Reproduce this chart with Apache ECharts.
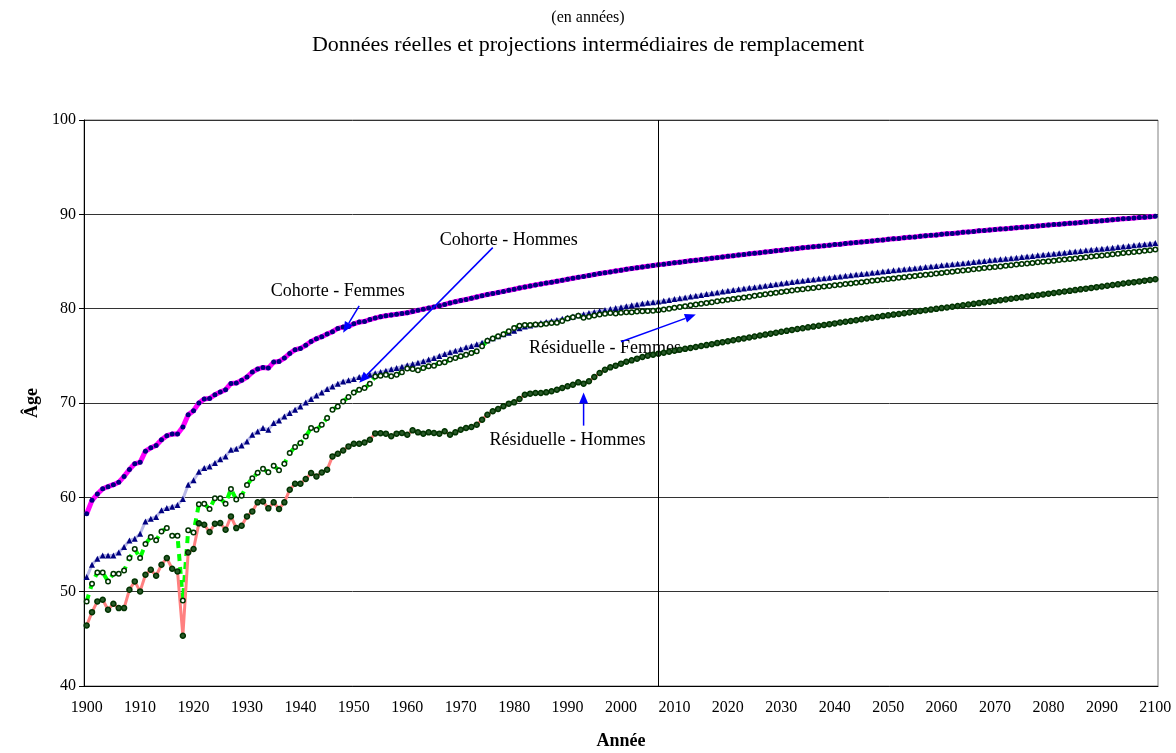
<!DOCTYPE html>
<html>
<head>
<meta charset="utf-8">
<title>Données réelles et projections intermédiaires de remplacement</title>
<script src="https://cdn.jsdelivr.net/npm/echarts@6/dist/echarts.min.js"></script>
<style>
  html, body { margin: 0; padding: 0; background: #fff; }
  #chart { width: 1176px; height: 753px; }
</style>
</head>
<body>
<div id="chart"></div>
<script>
// années 1900 - 2100 (axe des catégories)
const firstYear = 1900
const lastYear = 2100
const years = []
for (let y = firstYear; y <= lastYear; y++) years.push(String(y))

const yTicks = [40, 50, 60, 70, 80, 90, 100]
const yearSep = '2007' // trait vertical : fin des données réelles

// une ligne = une décennie
const cohorteFemmes = [
  58.26, 59.68, 60.35, 60.91, 61.13, 61.34, 61.59, 62.22, 62.95, 63.57,
  63.71, 64.89, 65.25, 65.49, 66.11, 66.54, 66.71, 66.71, 67.46, 68.76,
  69.19, 70.0, 70.42, 70.49, 70.88, 71.16, 71.41, 72.08, 72.11, 72.4,
  72.75, 73.28, 73.6, 73.77, 73.7, 74.34, 74.41, 74.76, 75.26, 75.65,
  75.79, 76.11, 76.53, 76.81, 77.03, 77.31, 77.56, 77.91, 78.05, 78.12,
  78.4, 78.58, 78.65, 78.84, 79.0, 79.15, 79.25, 79.33, 79.4, 79.48,
  79.57, 79.7, 79.82, 79.95, 80.06, 80.17, 80.3, 80.45, 80.6, 80.74,
  80.86, 80.97, 81.1, 81.24, 81.38, 81.5, 81.6, 81.72, 81.83, 81.95,
  82.06, 82.19, 82.3, 82.41, 82.52, 82.61, 82.71, 82.8, 82.9, 83.0,
  83.12, 83.22, 83.32, 83.42, 83.52, 83.62, 83.72, 83.81, 83.9, 83.99,
  84.08, 84.17, 84.26, 84.34, 84.42, 84.5, 84.58, 84.65, 84.72, 84.79,
  84.86, 84.93, 85.0, 85.07, 85.14, 85.2, 85.27, 85.34, 85.41, 85.48,
  85.55, 85.61, 85.68, 85.74, 85.81, 85.87, 85.93, 86.0, 86.06, 86.13,
  86.19, 86.26, 86.32, 86.38, 86.45, 86.5, 86.56, 86.62, 86.67, 86.73,
  86.79, 86.84, 86.9, 86.96, 87.01, 87.07, 87.12, 87.18, 87.24, 87.29,
  87.35, 87.4, 87.45, 87.51, 87.56, 87.61, 87.67, 87.72, 87.77, 87.82,
  87.88, 87.93, 87.98, 88.03, 88.09, 88.14, 88.19, 88.25, 88.29, 88.34,
  88.39, 88.44, 88.48, 88.53, 88.58, 88.62, 88.67, 88.72, 88.76, 88.81,
  88.86, 88.91, 88.95, 89.0, 89.05, 89.09, 89.14, 89.19, 89.23, 89.28,
  89.33, 89.37, 89.42, 89.47, 89.52, 89.56, 89.61, 89.66, 89.7, 89.75,
  89.8
]

const cohorteHommes = [
  51.55, 52.85, 53.49, 53.84, 53.84, 53.84, 54.16, 54.73, 55.43, 55.61,
  56.14, 57.45, 57.73, 57.91, 58.62, 58.86, 59.0, 59.18, 59.82, 61.34,
  61.8, 62.7, 63.1, 63.28, 63.63, 64.05, 64.34, 65.04, 65.15, 65.5,
  65.93, 66.63, 66.99, 67.34, 67.16, 67.87, 68.15, 68.58, 68.93, 69.29,
  69.64, 70.06, 70.42, 70.8, 71.12, 71.48, 71.76, 72.04, 72.29, 72.4,
  72.54, 72.75, 72.89, 73.0, 73.15, 73.29, 73.43, 73.57, 73.71, 73.85,
  74.0, 74.14, 74.28, 74.42, 74.6, 74.77, 74.98, 75.2, 75.37, 75.55,
  75.69, 75.9, 76.04, 76.22, 76.4, 76.65, 76.86, 77.07, 77.28, 77.46,
  77.67, 77.92, 78.1, 78.22, 78.35, 78.47, 78.58, 78.69, 78.8, 78.92,
  79.05, 79.18, 79.3, 79.42, 79.53, 79.64, 79.75, 79.86, 79.96, 80.06,
  80.16, 80.26, 80.36, 80.45, 80.54, 80.62, 80.69, 80.76, 80.84, 80.93,
  81.02, 81.1, 81.19, 81.28, 81.37, 81.46, 81.55, 81.63, 81.72, 81.81,
  81.9, 81.98, 82.05, 82.13, 82.21, 82.28, 82.36, 82.44, 82.51, 82.59,
  82.67, 82.75, 82.82, 82.9, 82.96, 83.03, 83.09, 83.16, 83.22, 83.29,
  83.35, 83.42, 83.48, 83.55, 83.61, 83.68, 83.74, 83.81, 83.87, 83.94,
  84.0, 84.06, 84.12, 84.18, 84.24, 84.29, 84.35, 84.41, 84.47, 84.53,
  84.59, 84.65, 84.71, 84.76, 84.82, 84.88, 84.94, 85.0, 85.06, 85.12,
  85.18, 85.24, 85.29, 85.35, 85.41, 85.47, 85.53, 85.59, 85.65, 85.71,
  85.76, 85.82, 85.88, 85.94, 86.0, 86.06, 86.12, 86.18, 86.24, 86.3,
  86.35, 86.41, 86.47, 86.53, 86.59, 86.65, 86.71, 86.77, 86.83, 86.89,
  86.95
]

const residuelleFemmes = [
  48.97, 50.84, 52.04, 52.04, 51.09, 51.9, 51.9, 52.25, 53.56, 54.52,
  53.56, 55.05, 55.79, 55.44, 56.39, 56.74, 55.93, 55.93, 49.07, 56.5,
  56.28, 59.27, 59.32, 58.76, 59.9, 59.9, 59.32, 60.88, 59.78, 60.17,
  61.32, 62.03, 62.6, 63.04, 62.65, 63.35, 62.86, 63.57, 64.7, 65.33,
  65.75, 66.46, 67.34, 67.16, 67.7, 68.4, 69.28, 69.64, 70.17, 70.63,
  71.12, 71.41, 71.58, 72.05, 72.8, 72.9, 73.0, 72.83, 73.0, 73.25,
  73.65, 73.6, 73.46, 73.71, 73.89, 73.96, 74.24, 74.31, 74.6, 74.77,
  74.95, 75.12, 75.3, 75.48, 76.01, 76.6, 76.85, 77.07, 77.3, 77.6,
  77.95, 78.2, 78.28, 78.27, 78.31, 78.33, 78.41, 78.48, 78.5, 78.7,
  78.95, 79.1, 79.26, 79.05, 79.15, 79.27, 79.37, 79.47, 79.54, 79.5,
  79.56, 79.62, 79.63, 79.69, 79.72, 79.76, 79.79, 79.83, 79.92, 80.0,
  80.09, 80.18, 80.26, 80.35, 80.43, 80.52, 80.61, 80.69, 80.78, 80.86,
  80.95, 81.03, 81.11, 81.19, 81.27, 81.36, 81.44, 81.52, 81.6, 81.68,
  81.76, 81.84, 81.92, 82.0, 82.07, 82.14, 82.2, 82.27, 82.34, 82.41,
  82.47, 82.54, 82.61, 82.68, 82.74, 82.81, 82.88, 82.95, 83.01, 83.08,
  83.15, 83.21, 83.28, 83.34, 83.4, 83.47, 83.53, 83.6, 83.66, 83.72,
  83.79, 83.85, 83.92, 83.98, 84.05, 84.11, 84.18, 84.24, 84.3, 84.36,
  84.42, 84.48, 84.54, 84.6, 84.67, 84.73, 84.79, 84.85, 84.91, 84.97,
  85.03, 85.09, 85.15, 85.21, 85.27, 85.33, 85.39, 85.46, 85.52, 85.58,
  85.64, 85.7, 85.76, 85.83, 85.89, 85.95, 86.01, 86.07, 86.14, 86.2,
  86.26
]

const residuelleHommes = [
  46.42, 47.83, 48.97, 49.14, 48.08, 48.72, 48.26, 48.26, 50.2, 51.09,
  50.03, 51.79, 52.32, 51.69, 52.85, 53.56, 52.43, 52.15, 45.33, 54.16,
  54.52, 57.24, 57.1, 56.32, 57.2, 57.27, 56.57, 57.98, 56.74, 56.99,
  57.98, 58.51, 59.47, 59.57, 58.83, 59.47, 58.76, 59.47, 60.81, 61.44,
  61.44, 61.94, 62.58, 62.22, 62.64, 62.92, 64.34, 64.62, 64.97, 65.4,
  65.68, 65.68, 65.82, 66.1, 66.78, 66.8, 66.75, 66.47, 66.75, 66.82,
  66.64, 67.1, 66.89, 66.75, 66.89, 66.82, 66.75, 67.0, 66.64, 66.89,
  67.17, 67.35, 67.45, 67.7, 68.23, 68.76, 69.12, 69.36, 69.65, 69.93,
  70.07, 70.42, 70.88, 70.99, 71.06, 71.06, 71.13, 71.24, 71.41, 71.59,
  71.77, 71.94, 72.19, 72.05, 72.3, 72.76, 73.18, 73.53, 73.78, 73.96,
  74.17, 74.38, 74.52, 74.7, 74.88, 75.02, 75.12, 75.23, 75.33, 75.44,
  75.54, 75.64, 75.74, 75.84, 75.94, 76.04, 76.14, 76.24, 76.35, 76.45,
  76.55, 76.65, 76.75, 76.85, 76.95, 77.05, 77.15, 77.25, 77.35, 77.45,
  77.55, 77.65, 77.75, 77.85, 77.93, 78.02, 78.1, 78.19, 78.27, 78.36,
  78.44, 78.53, 78.61, 78.7, 78.78, 78.87, 78.95, 79.04, 79.12, 79.21,
  79.29, 79.37, 79.44, 79.52, 79.6, 79.67, 79.75, 79.83, 79.9, 79.98,
  80.06, 80.13, 80.21, 80.29, 80.36, 80.44, 80.51, 80.59, 80.67, 80.74,
  80.82, 80.9, 80.97, 81.05, 81.13, 81.2, 81.28, 81.36, 81.43, 81.51,
  81.59, 81.66, 81.74, 81.82, 81.89, 81.97, 82.05, 82.12, 82.2, 82.28,
  82.35, 82.43, 82.51, 82.58, 82.66, 82.74, 82.81, 82.89, 82.97, 83.04,
  83.12
]

// étiquettes et flèches, en [année, âge]
const annotations = [
  { text: 'Cohorte - Hommes', at: [1979.2, 87.3], from: [1975.8, 86.47], to: [1950.8, 72.15] },
  { text: 'Cohorte - Femmes', at: [1947.0, 81.8], from: [1950.8, 80.3], to: [1948.4, 77.46] },
  { text: 'Résiduelle - Femmes', at: [1996.6, 75.76], from: [2000.2, 76.5], to: [2014.2, 79.37] },
  { text: 'Résiduelle - Hommes', at: [1990.0, 66.1], from: [1992.7, 67.6], to: [1993.1, 71.1] }
]

const serif = '"Liberation Serif", "Times New Roman", serif'

let chart = echarts.init(document.getElementById('chart'))

let option = {
  animation: false,
  backgroundColor: '#fff',
  title: [
    {
      text: '(en années)',
      left: 'center',
      top: 10,
      padding: 0,
      textStyle: { fontFamily: serif, fontSize: 16, fontWeight: 'normal', color: '#000' }
    },
    {
      text: 'Données réelles et projections intermédiaires de remplacement',
      left: 'center',
      top: 34,
      padding: 0,
      textStyle: { fontFamily: serif, fontSize: 22, fontWeight: 'normal', color: '#000' }
    }
  ],
  grid: {
    left: 84,
    right: 18,
    top: 120,
    bottom: 67,
    containLabel: false,
    outerBoundsMode: 'none',
    show: true,
    borderColor: '#808080',
    borderWidth: 1
  },
  xAxis: {
    type: 'category',
    data: years,
    boundaryGap: true,
    name: 'Année',
    nameLocation: 'middle',
    nameGap: 46,
    nameTextStyle: { fontFamily: serif, fontSize: 18, fontWeight: 'bold', color: '#000' },
    axisLine: { lineStyle: { color: '#000', width: 1 } },
    axisTick: { interval: 0, length: 5, lineStyle: { color: '#000' } },
    axisLabel: { interval: 9, margin: 14, fontFamily: serif, fontSize: 16, color: '#000' },
    splitLine: { show: false }
  },
  yAxis: {
    type: 'value',
    min: yTicks[0],
    max: yTicks[yTicks.length - 1],
    interval: 10,
    name: 'Âge',
    nameLocation: 'middle',
    nameGap: 35,
    nameRotate: 90,
    nameTextStyle: { fontFamily: serif, fontSize: 18, fontWeight: 'bold', color: '#000' },
    axisLine: { show: true, lineStyle: { color: '#000', width: 1 } },
    axisTick: { show: true, length: 5, lineStyle: { color: '#000' } },
    axisLabel: { margin: 8, fontFamily: serif, fontSize: 16, color: '#000' },
    splitLine: { lineStyle: { color: '#333', width: 1 } }
  },
  series: [
    {
      name: 'Cohorte - Femmes',
      type: 'line',
      data: cohorteFemmes,
      showAllSymbol: true,
      symbol: 'circle',
      symbolSize: 5,
      lineStyle: { color: '#ff00ff', width: 5 },
      itemStyle: { color: '#000080', borderWidth: 0 },
      markLine: {
        silent: true,
        symbol: 'none',
        label: { show: false },
        lineStyle: { color: '#000', width: 1, type: 'solid' },
        data: [{ xAxis: yearSep }]
      }
    },
    {
      name: 'Cohorte - Hommes',
      type: 'line',
      data: cohorteHommes,
      showAllSymbol: true,
      symbol: 'triangle',
      symbolSize: 6,
      lineStyle: { color: '#b8b8e8', width: 3 },
      itemStyle: { color: '#000080', borderWidth: 0 }
    },
    {
      name: 'Résiduelle - Femmes',
      type: 'line',
      data: residuelleFemmes,
      showAllSymbol: true,
      symbol: 'circle',
      symbolSize: 4.5,
      lineStyle: { color: '#00ff00', width: 4, type: [7, 6] },
      itemStyle: { color: '#ffffff', borderColor: '#003300', borderWidth: 1.5 }
    },
    {
      name: 'Résiduelle - Hommes',
      type: 'line',
      data: residuelleHommes,
      showAllSymbol: true,
      symbol: 'circle',
      symbolSize: 5,
      lineStyle: { color: '#ff8080', width: 3 },
      itemStyle: { color: '#2a5a2a', borderColor: '#003300', borderWidth: 1.5 }
    }
  ]
}

chart.setOption(option)

// annotations : textes et flèches bleues
function toPx(p) {
  return chart.convertToPixel({ xAxisIndex: 0, yAxisIndex: 0 }, [p[0] - firstYear, p[1]])
}

let graphics = []
annotations.forEach(function (a) {
  let c = toPx(a.at)
  graphics.push({
    type: 'text',
    x: c[0],
    y: c[1],
    z: 1,
    style: {
      text: a.text,
      fill: '#000',
      font: '18px ' + serif,
      align: 'center',
      verticalAlign: 'middle'
    }
  })
  let p0 = toPx(a.from)
  let p1 = toPx(a.to)
  let dx = p1[0] - p0[0]
  let dy = p1[1] - p0[1]
  let len = Math.sqrt(dx * dx + dy * dy)
  let ux = dx / len
  let uy = dy / len
  let head = 11
  let half = 4.5
  let bx = p1[0] - ux * head
  let by = p1[1] - uy * head
  graphics.push({
    type: 'line',
    z: 100,
    shape: { x1: p0[0], y1: p0[1], x2: bx, y2: by },
    style: { stroke: '#0000ff', lineWidth: 1.5 }
  })
  graphics.push({
    type: 'polygon',
    z: 100,
    shape: { points: [[p1[0], p1[1]], [bx - uy * half, by + ux * half], [bx + uy * half, by - ux * half]] },
    style: { fill: '#0000ff' }
  })
})

chart.setOption({ graphic: graphics })
</script>
</body>
</html>
